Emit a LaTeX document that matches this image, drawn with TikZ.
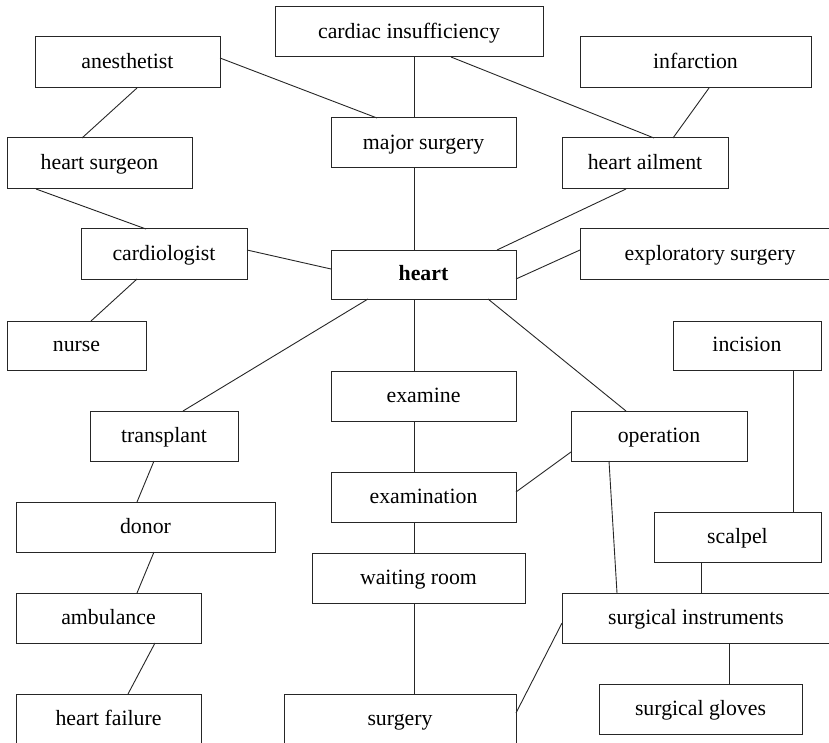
\documentclass[tikz,border=0pt]{standalone}
\usepackage{fontspec}
\setmainfont{Liberation Serif}
\begin{document}
\begin{tikzpicture}[x=1pt,y=-1pt,
  box/.style={draw=black!85,line width=1pt,inner sep=0pt,outer sep=0pt,
    font=\fontsize{21.8}{24}\selectfont,text height=16pt,text depth=3.6pt},
  link/.style={draw=black!85,line width=0.9pt}]
\useasboundingbox (0,0) rectangle (829,743);
\node[box,minimum width=268pt,minimum height=50pt] (ci) at (409,32) {cardiac insufficiency};
\node[box,minimum width=185pt,minimum height=51pt] (an) at (127.5,62.5) {anesthetist};
\node[box,minimum width=231pt,minimum height=51pt] (inf) at (695.5,62.5) {infarction};
\node[box,minimum width=185pt,minimum height=50pt] (ms) at (423.5,143) {major surgery};
\node[box,minimum width=185pt,minimum height=51pt] (hs) at (99.5,163.5) {heart surgeon};
\node[box,minimum width=166pt,minimum height=51pt] (ha) at (645,163.5) {heart ailment};
\node[box,minimum width=166pt,minimum height=50pt] (ca) at (164,254) {cardiologist};
\node[box,minimum width=185pt,minimum height=49pt,font=\fontsize{21.8}{24}\selectfont\bfseries] (he) at (423.5,274.5) {heart};
\node[box,minimum width=260pt,minimum height=50pt] (ex) at (710,254) {exploratory surgery};
\node[box,minimum width=139pt,minimum height=49pt] (nu) at (76.5,345.5) {nurse};
\node[box,minimum width=148pt,minimum height=49pt] (inc) at (747,345.5) {incision};
\node[box,minimum width=185pt,minimum height=50pt] (exm) at (423.5,396) {examine};
\node[box,minimum width=148pt,minimum height=50pt] (tr) at (164,436) {transplant};
\node[box,minimum width=176pt,minimum height=50pt] (op) at (659,436) {operation};
\node[box,minimum width=185pt,minimum height=50pt] (exn) at (423.5,497) {examination};
\node[box,minimum width=259pt,minimum height=50pt] (do) at (145.5,527) {donor};
\node[box,minimum width=167pt,minimum height=50pt] (sc) at (737.5,537) {scalpel};
\node[box,minimum width=213pt,minimum height=50pt] (wr) at (418.5,578) {waiting room};
\node[box,minimum width=185pt,minimum height=50pt] (am) at (108.5,618) {ambulance};
\node[box,minimum width=268pt,minimum height=50pt] (si) at (696,618) {surgical instruments};
\node[box,minimum width=203pt,minimum height=50pt] (sg) at (700.5,709) {surgical gloves};
\node[box,minimum width=185pt,minimum height=50pt] (hf) at (108.5,719) {heart failure};
\node[box,minimum width=232pt,minimum height=50pt] (su) at (400,719) {surgery};
% connectors
\draw[link] (ci.south -| 414,0) -- (ms.north -| 414,0);
\draw[link] (ms.south -| 414,0) -- (he.north -| 414,0);
\draw[link] (an.east |- 0,58) -- (ms.north -| 377,0);
\draw[link] (an.south -| 137,0) -- (hs.north -| 82,0);
\draw[link] (hs.south -| 36,0) -- (ca.north -| 146,0);
\draw[link] (ca.east |- 0,250) -- (he.west |- 0,269);
\draw[link] (ca.south -| 137,0) -- (nu.north -| 91,0);
\draw[link] (he.south -| 368,0) -- (tr.north -| 183,0);
\draw[link] (ci.south -| 451,0) -- (ha.north -| 654,0);
\draw[link] (inf.south -| 709,0) -- (ha.north -| 673,0);
\draw[link] (ha.south -| 626,0) -- (he.north -| 497,0);
\draw[link] (he.east |- 0,279) -- (ex.west |- 0,250);
\draw[link] (he.south -| 488,0) -- (op.north -| 626,0);
\draw[link] (he.south -| 414,0) -- (exm.north -| 414,0);
\draw[link] (exm.south -| 414,0) -- (exn.north -| 414,0);
\draw[link] (exn.south -| 414,0) -- (wr.north -| 414,0);
\draw[link] (wr.south -| 414,0) -- (su.north -| 414,0);
\draw[link] (tr.south -| 154,0) -- (do.north -| 137,0);
\draw[link] (do.south -| 154,0) -- (am.north -| 137,0);
\draw[link] (am.south -| 155,0) -- (hf.north -| 128,0);
\draw[link] (op.west |- 0,452) -- (exn.east |- 0,492);
\draw[link] (op.south -| 609,0) -- (si.north -| 617,0);
\draw[link] (inc.south -| 793,0) -- (sc.north -| 793,0);
\draw[link] (sc.south -| 701,0) -- (si.north -| 701,0);
\draw[link] (si.south -| 729,0) -- (sg.north -| 729,0);
\draw[link] (su.east |- 0,713) -- (si.west |- 0,623);
\end{tikzpicture}
\end{document}
